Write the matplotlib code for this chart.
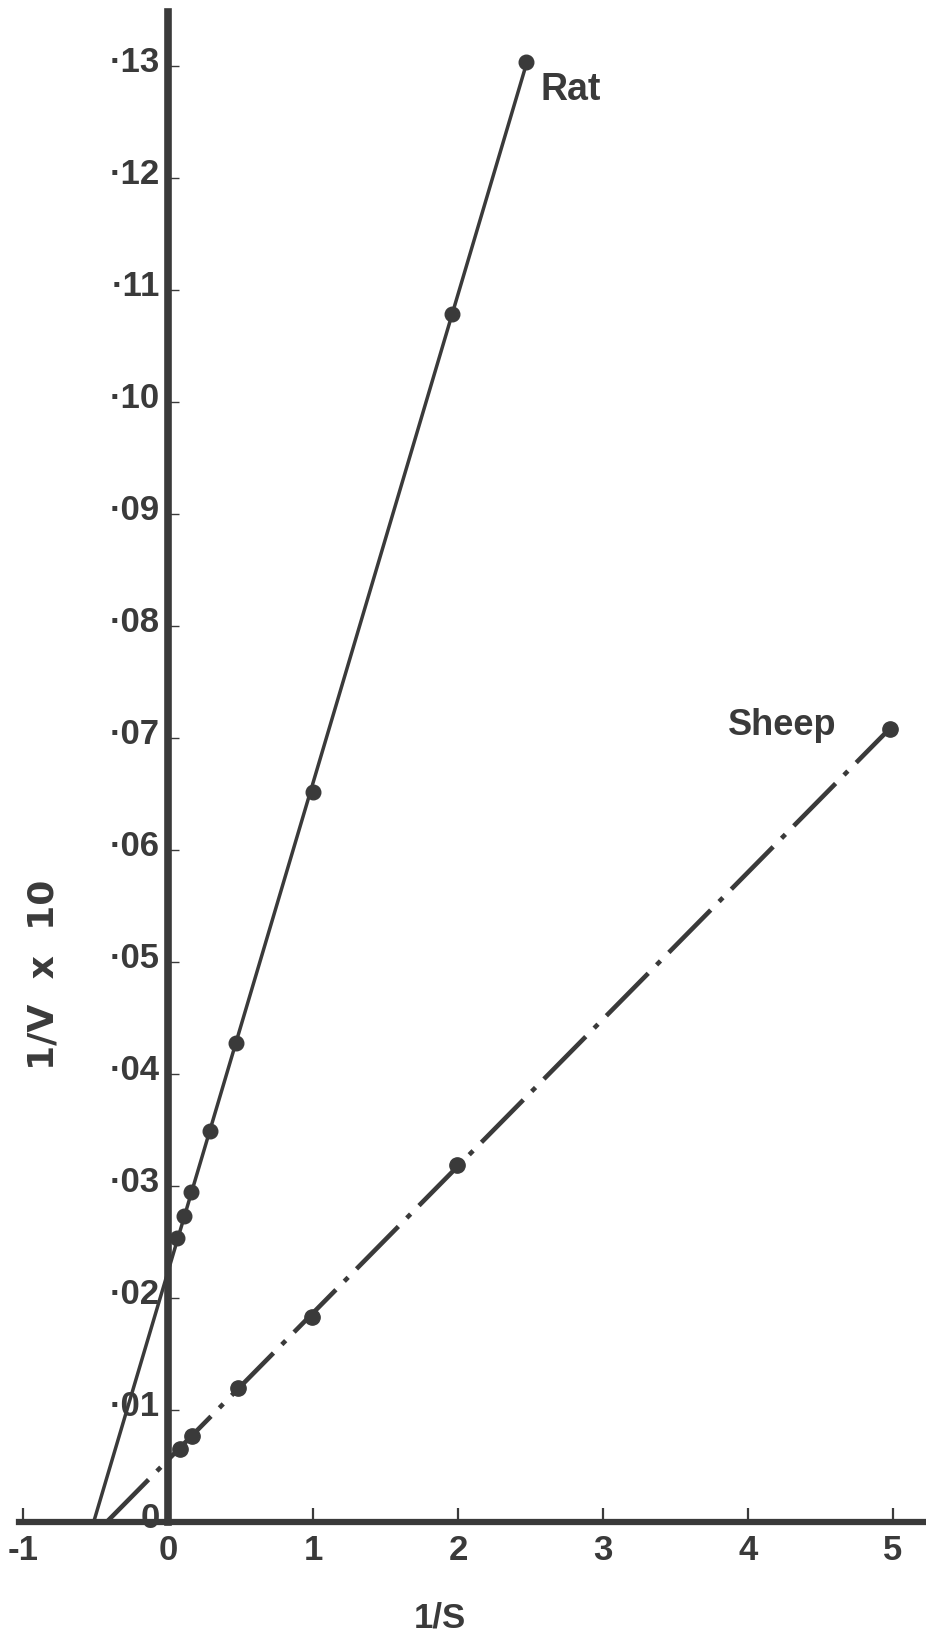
import matplotlib.pyplot as plt
import matplotlib.transforms as mtransforms
import numpy as np

# Lineweaver-Burk data
rat_x = [2.47, 1.96, 1.0, 0.47, 0.29, 0.16, 0.11, 0.062]
rat_y = [0.1304, 0.1079, 0.0652, 0.0428, 0.0349, 0.0295, 0.0273, 0.0254]

sheep_x = [4.98, 1.99, 0.99, 0.48, 0.165, 0.08]
sheep_y = [0.0708, 0.0319, 0.0183, 0.0120, 0.0077, 0.0065]

x_ticks = [-1, 0, 1, 2, 3, 4, 5]
x_ticklabels = ["-1", "0", "1", "2", "3", "4", "5"]
y_ticks = [0.0, 0.01, 0.02, 0.03, 0.04, 0.05, 0.06, 0.07, 0.08, 0.09, 0.10, 0.11, 0.12, 0.13]
y_ticklabels = ["0", "·01", "·02", "·03", "·04", "·05", "·06", "·07",
                "·08", "·09", "·10", "·11", "·12", "·13"]

ink = "#3a3a3a"
W, H = 926, 1641

fig = plt.figure(figsize=(W / 100, H / 100), dpi=100)

# axes placed so that x=0 sits at 168 px, y=0 at 1522 px from top
xlim = (-1.03, 5.23)
ylim = (0.0, 0.1348)
ux, uy = 145.0, 11200.0
left_px = 168 + xlim[0] * ux
right_px = 168 + xlim[1] * ux
ax = fig.add_axes([left_px / W, (H - 1522) / H,
                   (right_px - left_px) / W, (ylim[1] * uy) / H])

# spines first: moving a spine resets the ticks
for side in ["top", "right"]:
    ax.spines[side].set_visible(False)
ax.spines["left"].set_position(("data", 0))
ax.spines["left"].set_linewidth(5.5)
ax.spines["bottom"].set_linewidth(4.5)
ax.spines["left"].set_color(ink)
ax.spines["bottom"].set_color(ink)
ax.spines["left"].set_zorder(5)
ax.spines["bottom"].set_zorder(5)

ax.set_xlim(*xlim)
ax.set_ylim(*ylim)

# rat: solid line
m, b = np.polyfit(rat_x, rat_y, 1)
xl = np.array([-b / m, max(rat_x)])
ax.plot(xl, m * xl + b, color=ink, lw=2.5, solid_capstyle="butt", zorder=3)
ax.plot(rat_x, rat_y, "o", color=ink, ms=10.5, zorder=4)

# sheep: dash-dot line
m2, b2 = np.polyfit(sheep_x, sheep_y, 1)
xs = np.array([-b2 / m2, max(sheep_x)])
ax.plot(xs, m2 * xs + b2, color=ink, lw=3.3, linestyle=(0, (13, 2.6, 1.2, 2.6)),
        dash_capstyle="butt", zorder=3)
ax.plot(sheep_x, sheep_y, "o", color=ink, ms=11, zorder=4)

tick_font = dict(family="Liberation Sans", weight="bold", size=25)

ax.set_xticks(x_ticks)
ax.set_xticklabels(x_ticklabels, color=ink, **tick_font)
ax.set_yticks(y_ticks)
ax.set_yticklabels(y_ticklabels, color=ink, **tick_font)

ax.tick_params(axis="x", direction="in", length=10, width=1.6, color=ink, pad=9)
ax.tick_params(axis="y", direction="in", length=8, width=1.0, color=ink, pad=6)

offset = mtransforms.ScaledTranslation(0, 7 / 100, fig.dpi_scale_trans)
for lab in ax.get_yticklabels():
    lab.set_transform(lab.get_transform() + offset)

ax.text(2.57, 0.1270, "Rat", color=ink, fontsize=27, fontweight="bold",
        family="Liberation Sans", ha="left", va="baseline")
ax.text(4.61, 0.0703, "Sheep", color=ink, fontsize=26, fontweight="bold",
        family="Liberation Sans", ha="right", va="baseline")

fig.text(44 / W, 1 - 975 / H, "1/V  x  10", rotation=90, color=ink,
         fontsize=26, fontweight="bold", family="DejaVu Sans",
         ha="center", va="center")
fig.text(440 / W, 1 - 1618 / H, "1/S", color=ink, fontsize=25,
         fontweight="bold", family="Liberation Sans",
         ha="center", va="center")

fig.savefig("out.png", dpi=100, facecolor="white")
